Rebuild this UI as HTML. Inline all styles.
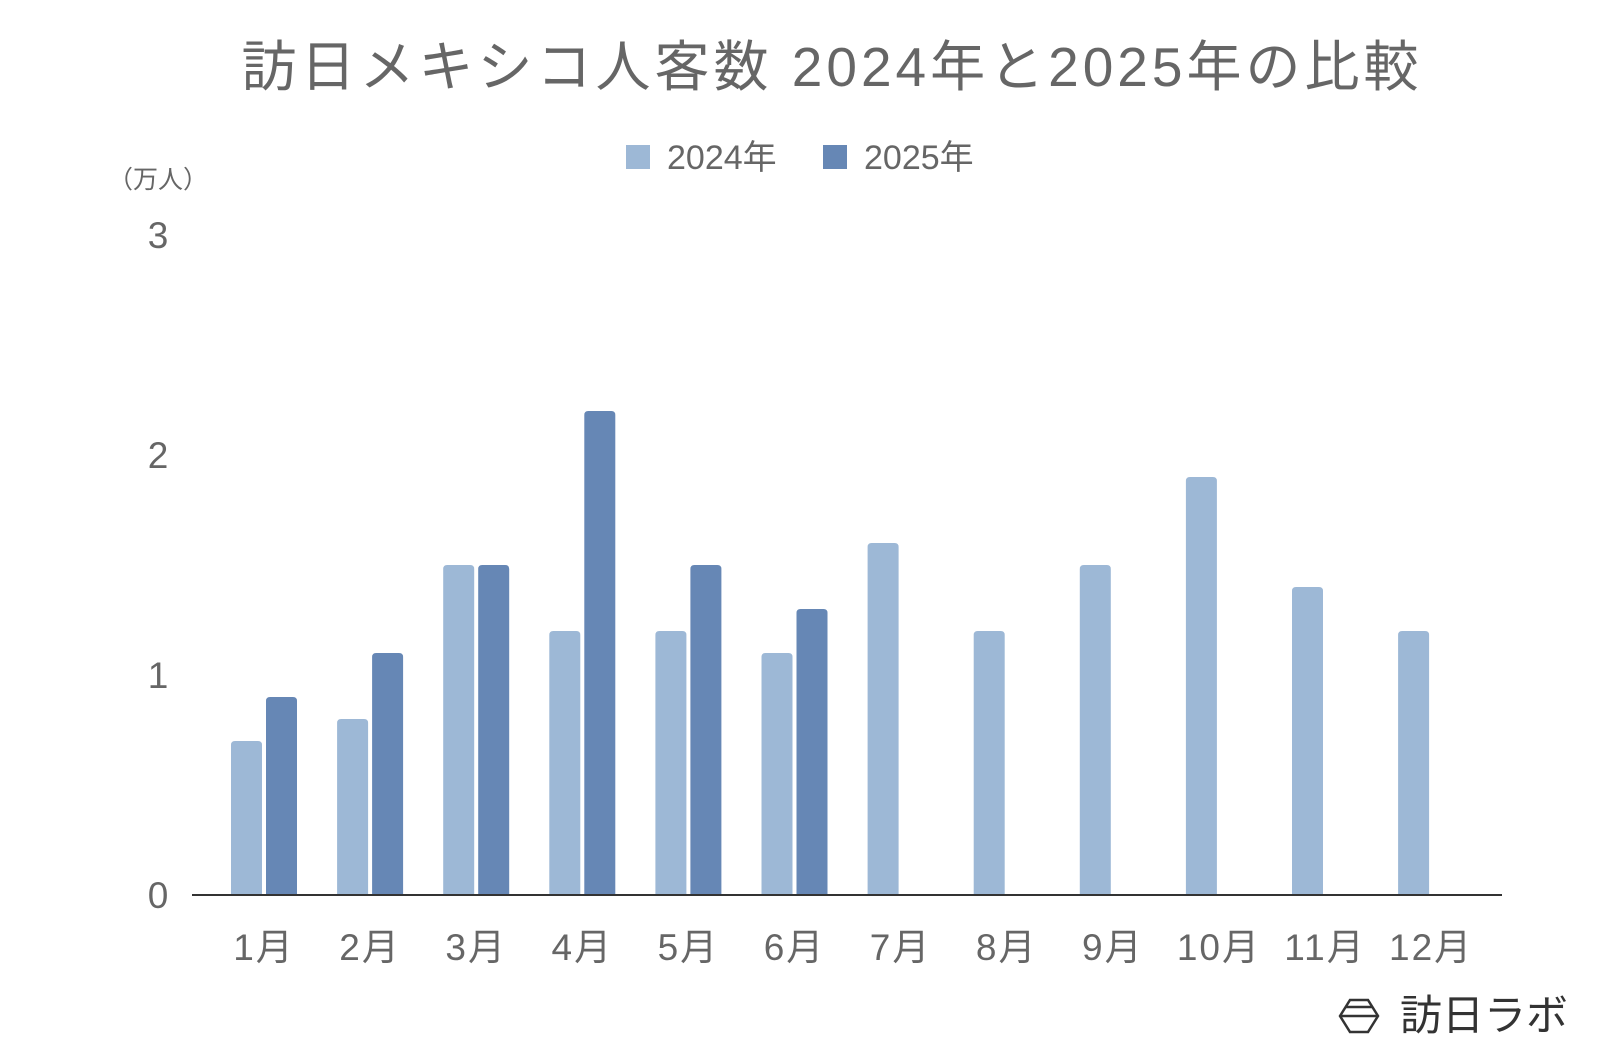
<!DOCTYPE html>
<html><head><meta charset="utf-8"><style>
body{margin:0;background:#fff;}
svg{display:block;font-family:"Liberation Sans","Noto Sans CJK JP",sans-serif;}
</style></head><body>
<svg id="chart" width="1600" height="1047" viewBox="0 0 1600 1047">
<text x="832" y="86" text-anchor="middle" font-size="55" letter-spacing="4" fill="#666">訪日メキシコ人客数 2024年と2025年の比較</text>
<g>
<rect x="626" y="145" width="24" height="24" fill="#9db8d6"/>
<text x="667" y="169" font-size="34" fill="#666">2024年</text>
<rect x="823" y="145" width="24" height="24" fill="#6687b5"/>
<text x="864" y="169" font-size="34" fill="#666">2025年</text>
</g>
<text x="158" y="188" text-anchor="middle" font-size="25" fill="#666">（万人）</text>
<g id="yticks"></g>
<g id="bars"></g>
<line x1="192" y1="895" x2="1502" y2="895" stroke="#333" stroke-width="2"/>
<g id="xlabels"></g>
<g>
<polygon points="1340,1016 1350,1000 1368,1000 1378,1016 1368,1032 1350,1032" fill="none" stroke="#333" stroke-width="2.5"/>
<line x1="1340" y1="1016" x2="1378" y2="1016" stroke="#333" stroke-width="2.5"/>
<line x1="1346" y1="1007" x2="1372" y2="1007" stroke="#333" stroke-width="2.5"/>
<text x="1400" y="1030" font-size="42" fill="#333">訪日ラボ</text>
</g>
</svg>
<script>
const categories=["1月","2月","3月","4月","5月","6月","7月","8月","9月","10月","11月","12月"];
const series2024=[0.7,0.8,1.5,1.2,1.2,1.1,1.6,1.2,1.5,1.9,1.4,1.2];
const series2025=[0.9,1.1,1.5,2.2,1.5,1.3,null,null,null,null,null,null];
const yTicks=[0,1,2,3];
const NS="http://www.w3.org/2000/svg";
const y0=895, unit=220, x0=264, step=106.1, bw=31;
const yScale=v=>y0-v*unit;
const xCenter=i=>x0+i*step;
function mk(tag,attrs){const e=document.createElementNS(NS,tag);for(const k in attrs)e.setAttribute(k,attrs[k]);return e;}
const yt=document.getElementById('yticks');
yTicks.forEach(t=>{const e=mk('text',{x:158,y:yScale(t)+13,'text-anchor':'middle','font-size':37,fill:'#666'});
e.textContent=t;


yt.appendChild(e);});
const bg=document.getElementById('bars');
function bar(v,x,color,name){if(v==null)return;const y=yScale(v);
const e=mk('path',{d:`M${x},${y0} V${y+4} Q${x},${y} ${x+4},${y} H${x+bw-4} Q${x+bw},${y} ${x+bw},${y+4} V${y0} Z`,fill:color});


bg.appendChild(e);}
categories.forEach((c,i)=>{const cx=xCenter(i);
bar(series2024[i],cx-33,'#9db8d6','bar-2024');
bar(series2025[i],cx+2,'#6687b5','bar-2025');
const t=mk('text',{x:cx,y:960,'text-anchor':'middle','font-size':37,'letter-spacing':2,fill:'#666'});
t.textContent=c;


document.getElementById('xlabels').appendChild(t);});
</script>
</body></html>
